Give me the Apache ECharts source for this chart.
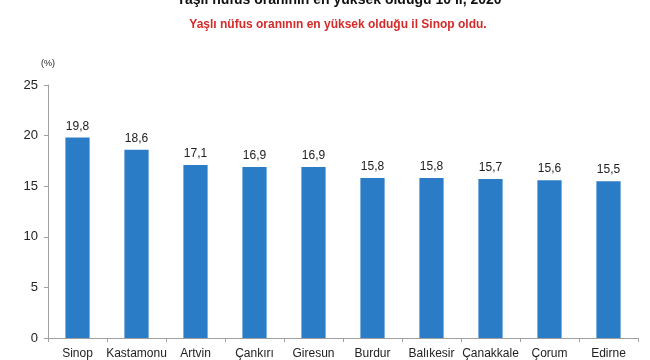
<!DOCTYPE html>
<html><head><meta charset="utf-8">
<script src="https://cdn.jsdelivr.net/npm/echarts@6/dist/echarts.min.js"></script>
<style>html,body{margin:0;padding:0;background:#fff}#c{width:650px;height:360px}</style>
</head><body><div id="c"></div>
<script>
const categories = ['Sinop','Kastamonu','Artvin','Çankırı','Giresun','Burdur','Balıkesir','Çanakkale','Çorum','Edirne'];
const values = [19.8,18.6,17.1,16.9,16.9,15.8,15.8,15.7,15.6,15.5];
const yTicks = [0,5,10,15,20,25];
const titleText = 'Yaşlı nüfus oranının en yüksek olduğu 10 il, 2020';
const subtitleText = 'Yaşlı nüfus oranının en yüksek olduğu il Sinop oldu.';
const unitText = '(%)';

const font = '"Liberation Sans", Arial, sans-serif';
const chart = echarts.init(document.getElementById('c'), null, {renderer:'canvas'});
chart.setOption({
  animation:false,
  textStyle:{fontFamily:font},
  title:[
    {text:titleText, left:334, textAlign:'center', top:-12, textStyle:{fontFamily:font, fontSize:14, fontWeight:'bold', color:'#111'}},
    {text:subtitleText, left:333, textAlign:'center', top:14, textStyle:{fontFamily:font, fontSize:12, fontWeight:'bold', color:'#d42a2a'}},
    {text:unitText, left:36, top:54, textStyle:{fontFamily:font, fontSize:9, fontWeight:'normal', color:'#222'}}
  ],
  grid:{left:48, right:12, top:85, bottom:22, containLabel:false},
  xAxis:{type:'category', data:categories,
    axisLine:{lineStyle:{color:'#a0a0a0'}},
    axisTick:{show:true, alignWithLabel:false, length:4, lineStyle:{color:'#a0a0a0'}},
    axisLabel:{color:'#222', fontSize:12, fontFamily:font, margin:10, interval:0}},
  yAxis:{type:'value', min:yTicks[0], max:yTicks[yTicks.length-1], interval:5,
    axisLine:{show:true, lineStyle:{color:'#a0a0a0'}},
    axisTick:{show:true, length:4, lineStyle:{color:'#a0a0a0'}},
    splitLine:{show:false},
    axisLabel:{color:'#222', fontSize:13, fontFamily:font, margin:10}},
  series:[{type:'bar', data:values, barWidth:'41%', itemStyle:{color:'#2a7cc6'},
    label:{show:true, position:'top', color:'#222', fontSize:12, fontFamily:font, distance:5,
      formatter:p=>p.value.toFixed(1).replace('.',',')}}]
});
</script></body></html>
